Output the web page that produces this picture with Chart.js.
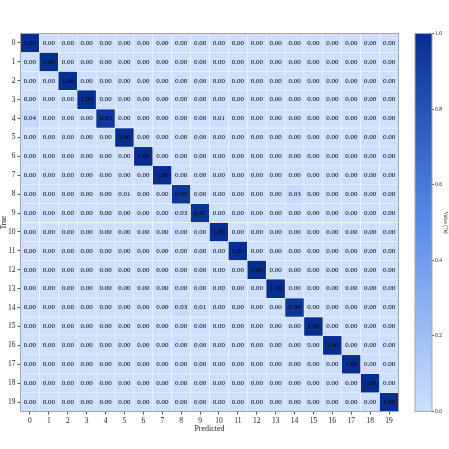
<!DOCTYPE html>
<html>
<head>
<meta charset="utf-8">
<script src="https://cdn.jsdelivr.net/npm/chart.js@4.4.1/dist/chart.umd.min.js"></script>
<style>
  html, body { margin: 0; padding: 0; background: #fff; }
  #wrap { position: relative; width: 449px; height: 449px; }
  #heat { position: absolute; left: 0; top: 0; }
  #cbar { position: absolute; left: 405px; top: 0; }
</style>
</head>
<body>
<div id="wrap">
  <canvas id="heat" width="449" height="449"></canvas>
  <canvas id="cbar" width="44" height="449"></canvas>
</div>
<script>
// confusion matrix, rows = true class, cols = predicted class
const classes = ['0','1','2','3','4','5','6','7','8','9','10','11','12','13','14','15','16','17','18','19'];
const rowIdx = [0,1,2,3,4,5,6,7,8,9,10,11,12,13,14,15,16,17,18,19];
const matrix = [
  [1.00,0,0,0,0,0,0,0,0,0,0,0,0,0,0,0,0,0,0,0],
  [0,1.00,0,0,0,0,0,0,0,0,0,0,0,0,0,0,0,0,0,0],
  [0,0,1.00,0,0,0,0,0,0,0,0,0,0,0,0,0,0,0,0,0],
  [0,0,0,1.00,0,0,0,0,0,0,0,0,0,0,0,0,0,0,0,0],
  [0.04,0,0,0,0.95,0,0,0,0,0,0.01,0,0,0,0,0,0,0,0,0],
  [0,0,0,0,0,1.00,0,0,0,0,0,0,0,0,0,0,0,0,0,0],
  [0,0,0,0,0,0,1.00,0,0,0,0,0,0,0,0,0,0,0,0,0],
  [0,0,0,0,0,0,0,1.00,0,0,0,0,0,0,0,0,0,0,0,0],
  [0,0,0,0,0,0.01,0,0,0.95,0,0,0,0,0,0.03,0,0,0,0,0],
  [0,0,0,0,0,0,0,0,0.03,0.97,0,0,0,0,0,0,0,0,0,0],
  [0,0,0,0,0,0,0,0,0,0,1.00,0,0,0,0,0,0,0,0,0],
  [0,0,0,0,0,0,0,0,0,0,0,1.00,0,0,0,0,0,0,0,0],
  [0,0,0,0,0,0,0,0,0,0,0,0,1.00,0,0,0,0,0,0,0],
  [0,0,0,0,0,0,0,0,0,0,0,0,0,1.00,0,0,0,0,0,0],
  [0,0,0,0,0,0,0,0,0.03,0.01,0,0,0,0,0.96,0,0,0,0,0],
  [0,0,0,0,0,0,0,0,0,0,0,0,0,0,0,1.00,0,0,0,0],
  [0,0,0,0,0,0,0,0,0,0,0,0,0,0,0,0,1.00,0,0,0],
  [0,0,0,0,0,0,0,0,0,0,0,0,0,0,0,0,0,1.00,0,0],
  [0,0,0,0,0,0,0,0,0,0,0,0,0,0,0,0,0,0,1.00,0],
  [0,0,0,0,0,0,0,0,0,0,0,0,0,0,0,0,0,0,0,1.00],
];
const cbarTicks = [0.0, 0.2, 0.4, 0.6, 0.8, 1.0];

const SERIF = '"Liberation Serif", "DejaVu Serif", serif';
const STOPS = [
  [0.0, [206, 224, 254]],
  [0.5, [88, 140, 230]],
  [1.0, [6, 46, 142]],
];

function cmap(v) {
  for (let i = 1; i < STOPS.length; i++) {
    const [p1, c1] = STOPS[i];
    const [p0, c0] = STOPS[i - 1];
    if (v <= p1) {
      const t = (v - p0) / (p1 - p0);
      const c = c0.map((a, k) => Math.round(a + (c1[k] - a) * t));
      return `rgb(${c[0]},${c[1]},${c[2]})`;
    }
  }
  const c = STOPS[STOPS.length - 1][1];
  return `rgb(${c[0]},${c[1]},${c[2]})`;
}

// one floating-bar dataset per true-class row
const datasets = rowIdx.map(r => ({
  data: classes.map(() => [r - 0.5, r + 0.5]),
  backgroundColor: matrix[r].map(v => cmap(v)),
  borderColor: 'rgba(255,255,255,0.75)',
  borderWidth: 0.5,
  borderSkipped: false,
  barPercentage: 1,
  categoryPercentage: 1,
}));

const cellText = {
  id: 'cellText',
  afterDatasetsDraw(chart) {
    const { ctx, scales: { x, y } } = chart;
    ctx.save();
    ctx.font = `7px ${SERIF}`;
    ctx.fillStyle = '#000';
    ctx.textAlign = 'center';
    ctx.textBaseline = 'middle';
    rowIdx.forEach(r => {
      matrix[r].forEach((v, c) => {
        ctx.fillText(v.toFixed(2), x.getPixelForValue(c), y.getPixelForValue(r));
      });
    });
    ctx.restore();
  }
};

const frame = {
  id: 'frame',
  afterDraw(chart) {
    const a = chart.chartArea;
    const ctx = chart.ctx;
    ctx.save();
    ctx.strokeStyle = '#a8a8a8';
    ctx.lineWidth = 1;
    ctx.strokeRect(a.left, a.top, a.right - a.left, a.bottom - a.top);
    ctx.restore();
  }
};

const tickGrid = { display: true, drawOnChartArea: false, drawTicks: true, tickLength: 3, color: '#555', offset: false };

new Chart(document.getElementById('heat'), {
  type: 'bar',
  data: { labels: classes, datasets },
  options: {
    responsive: false,
    animation: false,
    devicePixelRatio: 1,
    layout: { padding: { top: 33.5, right: 50.5, left: 0, bottom: 15 } },
    plugins: { legend: { display: false }, tooltip: { enabled: false } },
    scales: {
      x: {
        stacked: true,
        grid: tickGrid,
        border: { display: false },
        ticks: { color: '#222', font: { family: SERIF, size: 7.5 }, padding: 2, maxRotation: 0 },
        title: { display: true, text: 'Predicted', color: '#222', font: { family: SERIF, size: 8 }, padding: { top: 0, bottom: 0 } },
        afterFit: s => { s.height = 22.5; },
      },
      y: {
        type: 'linear',
        reverse: true,
        min: -0.5,
        max: 19.5,
        grid: tickGrid,
        border: { display: false },
        afterBuildTicks: s => { s.ticks = rowIdx.map(v => ({ value: v })); },
        ticks: { color: '#222', font: { family: SERIF, size: 7.5 }, padding: 2, callback: v => classes[v] },
        title: { display: true, text: 'True', color: '#222', font: { family: SERIF, size: 7.5 }, padding: 0 },
        afterFit: s => { s.width = 20.5; },
      }
    }
  },
  plugins: [cellText, frame]
});

// colorbar
new Chart(document.getElementById('cbar'), {
  type: 'bar',
  data: {
    labels: ['v'],
    datasets: [{
      data: [[0, 1]],
      backgroundColor: ctx => {
        const a = ctx.chart.chartArea;
        if (!a) return cmap(0.5);
        const g = ctx.chart.ctx.createLinearGradient(0, a.bottom, 0, a.top);
        for (let i = 0; i <= 20; i++) g.addColorStop(i / 20, cmap(i / 20));
        return g;
      },
      barPercentage: 1,
      categoryPercentage: 1,
      borderWidth: 0,
    }]
  },
  options: {
    responsive: false,
    animation: false,
    devicePixelRatio: 1,
    layout: { padding: { top: 33.5, bottom: 37.5, left: 10, right: 0 } },
    plugins: { legend: { display: false }, tooltip: { enabled: false } },
    scales: {
      x: { display: false },
      y: {
        position: 'right',
        min: 0,
        max: 1,
        grid: { display: true, drawOnChartArea: false, drawTicks: true, tickLength: 2, color: '#555' },
        border: { display: false },
        afterBuildTicks: s => { s.ticks = cbarTicks.map(v => ({ value: v })); },
        ticks: { color: '#222', font: { family: SERIF, size: 5.5 }, padding: 1, callback: v => v.toFixed(1) },
        title: { display: true, text: 'Value (%)', color: '#222', font: { family: SERIF, size: 5.5 }, padding: 0 },
        afterFit: s => { s.width = 17; },
      }
    }
  },
  plugins: [frame]
});
</script>
</body>
</html>
